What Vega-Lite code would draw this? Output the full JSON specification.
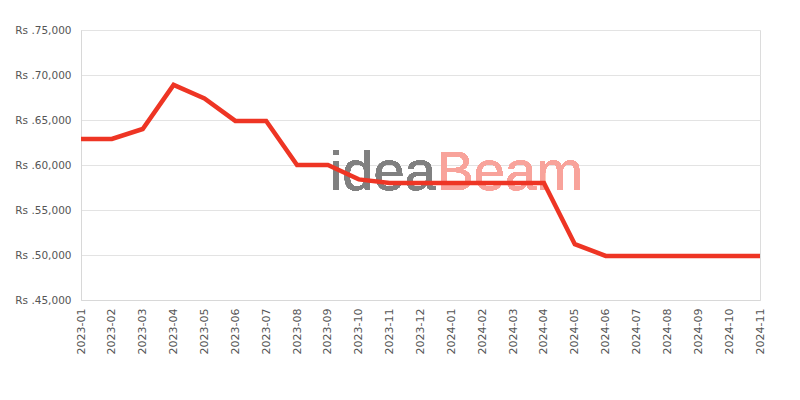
{
  "$schema": "https://vega.github.io/schema/vega-lite/v6.json",
  "width": 679,
  "height": 270,
  "autosize": {"type": "none"},
  "padding": {"left": 81, "top": 30, "right": 40, "bottom": 100},
  "background": "white",
  "config": {
    "view": {"stroke": "#dcdcdc", "strokeWidth": 1},
    "axis": {"labelFont": "DejaVu Sans", "labelFontSize": 11, "labelColor": "#555555", "gridColor": "#e3e3e3", "domainColor": "#d8d8d8", "ticks": false, "title": null}
  },
  "data": {
    "values": [
      {"month": "2023-01", "price": 62900},
      {"month": "2023-02", "price": 62900},
      {"month": "2023-03", "price": 64000},
      {"month": "2023-04", "price": 68900},
      {"month": "2023-05", "price": 67400},
      {"month": "2023-06", "price": 64900},
      {"month": "2023-07", "price": 64900},
      {"month": "2023-08", "price": 60000},
      {"month": "2023-09", "price": 60000},
      {"month": "2023-10", "price": 58400},
      {"month": "2023-11", "price": 58000},
      {"month": "2023-12", "price": 58000},
      {"month": "2024-01", "price": 58000},
      {"month": "2024-02", "price": 58000},
      {"month": "2024-03", "price": 58000},
      {"month": "2024-04", "price": 58000},
      {"month": "2024-05", "price": 51200},
      {"month": "2024-06", "price": 49900},
      {"month": "2024-07", "price": 49900},
      {"month": "2024-08", "price": 49900},
      {"month": "2024-09", "price": 49900},
      {"month": "2024-10", "price": 49900},
      {"month": "2024-11", "price": 49900}
    ]
  },
  "encoding": {
    "x": {"field": "month", "type": "ordinal", "scale": {"type": "point", "padding": 0},
      "axis": {"labelAngle": -90, "labelPadding": 8, "grid": false, "domain": true}},
    "y": {"field": "price", "type": "quantitative", "scale": {"domain": [45000, 75000], "nice": false, "zero": false},
      "axis": {"values": [45000, 50000, 55000, 60000, 65000, 70000, 75000], "labelExpr": "'Rs .' + format(datum.value, ',')", "labelPadding": 10, "labelFontSize": 10.5, "domain": true}}
  },
  "layer": [
    {
      "mark": {"type": "text", "text": "idea", "font": "Liberation Sans", "fontSize": 56, "color": "#808080", "align": "left", "baseline": "alphabetic", "dx": 2},
      "encoding": {"x": {"datum": "2023-09"}, "y": {"datum": 57200}}
    },
    {
      "mark": {"type": "text", "text": "Beam", "font": "Liberation Sans", "fontSize": 56, "color": "#f8a39b", "align": "left", "baseline": "alphabetic", "dx": 16},
      "encoding": {"x": {"datum": "2023-12"}, "y": {"datum": 57200}}
    },
    {
      "mark": {"type": "line", "color": "#ee3524", "strokeWidth": 4.5, "strokeJoin": "miter"}
    }
  ]
}
